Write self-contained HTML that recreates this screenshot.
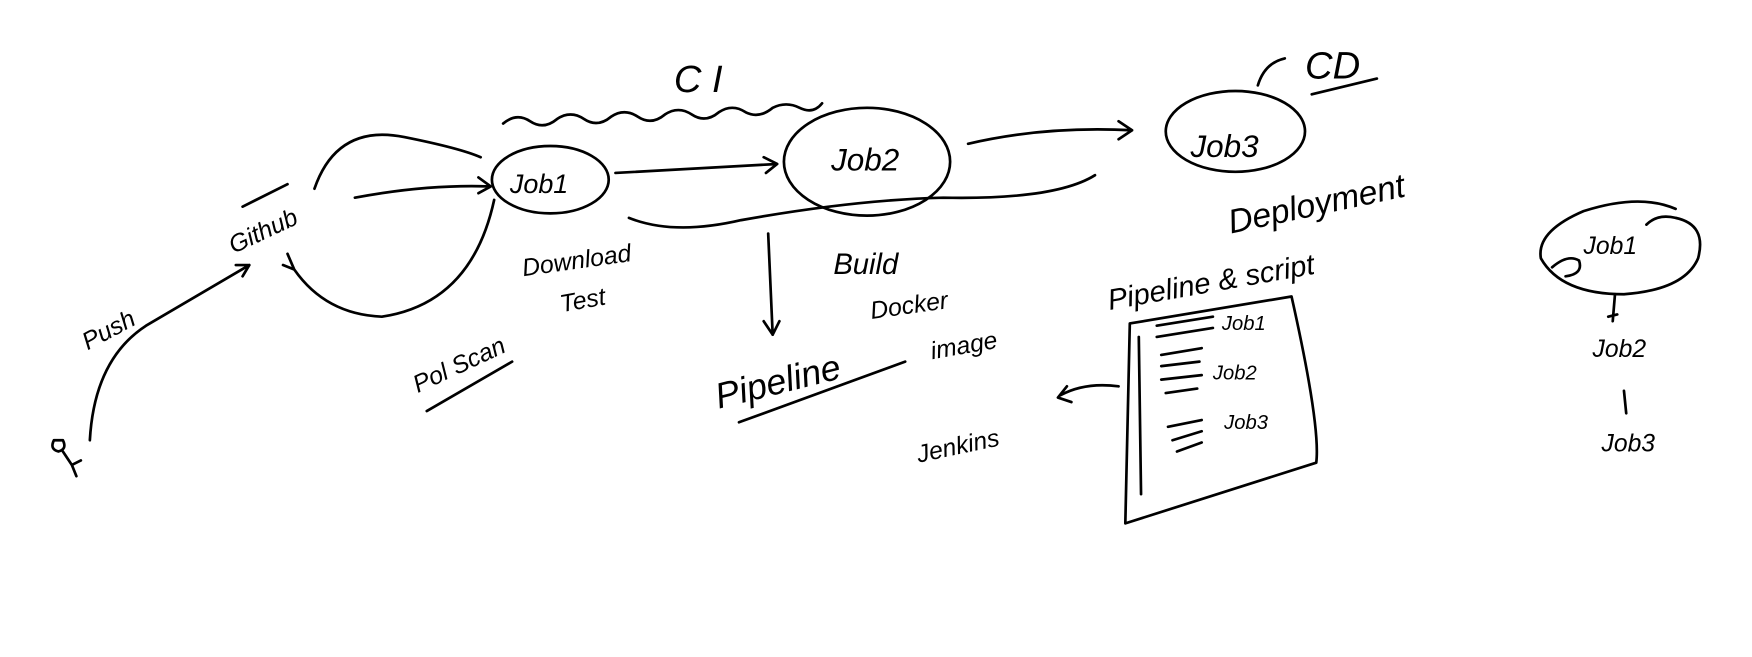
<!DOCTYPE html>
<html><head><meta charset="utf-8"><style>
html,body{margin:0;padding:0;background:#fff;width:1752px;height:657px;overflow:hidden}
svg{display:block}
text{font-family:"Liberation Sans",sans-serif;font-style:italic;fill:#000}
</style></head><body>
<svg width="1752" height="657" viewBox="0 0 1560 585" xmlns="http://www.w3.org/2000/svg">
<g fill="none" stroke="#000" stroke-width="2.4" stroke-linecap="round" stroke-linejoin="round">
<path d="M48 392 q-4 8 4 10 q8 -2 4 -10 z M56 402 l8 12 M64 414 l4 10 M64 414 l8 -4"/>
<path d="M80 392 Q84 320 130 290 L222 236 M210 236 L222 236 L216 246"/>
<path d="M216 184 L256 164"/>
<path d="M280 168 Q300 110 360 122 Q410 132 428 140"/>
<path d="M316 176 Q380 164 436 166 M426 158 L437 166 L426 172"/>
<path d="M440 178 Q420 270 340 282 Q290 280 262 240 L256 226 M256 226 L262 240 L252 236"/>
<ellipse cx="490" cy="160" rx="52" ry="30"/>
<path d="M548 154 L692 146 M680 140 L692 146 L682 154"/>
<path d="M448 110 q12 -10 24 -2 q12 8 24 -2 q12 -8 24 0 q12 8 24 -2 q12 -8 24 0 q12 8 24 -2 q12 -8 24 0 q12 8 24 -2 q12 -8 24 0 q12 6 24 -4 q12 -6 24 0 q12 6 20 -4"/>
<ellipse cx="772" cy="144" rx="74" ry="48"/>
<path d="M560 194 Q600 210 660 196 Q760 178 840 176 Q940 178 975 156"/>
<path d="M862 128 Q930 112 1008 116 M996 108 L1008 116 L996 124"/>
<path d="M684 208 L688 298 M680 286 L688 298 L694 286"/>
<ellipse cx="1100" cy="117" rx="62" ry="36"/>
<path d="M1120 76 Q1126 56 1144 52"/>
<path d="M1168 84 L1226 70"/>
<path d="M658 376 L806 322"/>
<path d="M380 366 L456 322"/>
<path d="M1006 288 L1150 264 Q1176 380 1172 412 L1002 466 Z"/>
<path d="M1014 300 L1016 440"/>
<path d="M1030 290 L1080 282 M1030 300 L1080 292 M1034 316 L1070 310 M1034 326 L1068 322 M1034 338 L1070 334 M1038 350 L1066 346 M1040 380 L1070 374 M1044 392 L1070 384 M1048 402 L1070 394"/>
<path d="M996 344 Q966 340 944 352 M950 344 L942 354 L954 358"/>
<path d="M1492 186 Q1460 172 1410 188 Q1368 206 1372 230 Q1390 262 1446 262 Q1500 258 1512 230 Q1520 200 1492 194 Q1476 190 1466 200"/>
<path d="M1382 238 Q1396 226 1406 232 Q1410 244 1394 246"/>
<path d="M1438 262 L1436 286 M1432 282 L1440 280"/>
<path d="M1446 348 L1448 368"/>
</g>
<g font-size="22">
<text x="78" y="312" transform="rotate(-28 78 312)">Push</text>
<text x="208" y="226" transform="rotate(-25 208 226)">Github</text>
<text x="454" y="172" font-size="24">Job1</text>
<text x="740" y="152" font-size="28">Job2</text>
<text x="1060" y="140" font-size="28">Job3</text>
<text x="600" y="82" font-size="34">C I</text>
<text x="1162" y="70" font-size="34">CD</text>
<text x="466" y="246" transform="rotate(-8 466 246)">Download</text>
<text x="500" y="278" transform="rotate(-10 500 278)">Test</text>
<text x="372" y="350" transform="rotate(-25 372 350)">Pol Scan</text>
<text x="742" y="244" font-size="26">Build</text>
<text x="640" y="364" font-size="32" transform="rotate(-14 640 364)">Pipeline</text>
<text x="776" y="284" transform="rotate(-8 776 284)">Docker</text>
<text x="830" y="320" transform="rotate(-10 830 320)">image</text>
<text x="1096" y="208" font-size="30" transform="rotate(-12 1096 208)">Deployment</text>
<text x="988" y="276" font-size="26" transform="rotate(-10 988 276)">Pipeline &amp; script</text>
<text x="1088" y="294" font-size="18">Job1</text>
<text x="1080" y="338" font-size="18">Job2</text>
<text x="1090" y="382" font-size="18">Job3</text>
<text x="818" y="412" transform="rotate(-12 818 412)">Jenkins</text>
<text x="1410" y="226" font-size="22">Job1</text>
<text x="1418" y="318" font-size="22">Job2</text>
<text x="1426" y="402" font-size="22">Job3</text>
</g>
</svg>
</body></html>
